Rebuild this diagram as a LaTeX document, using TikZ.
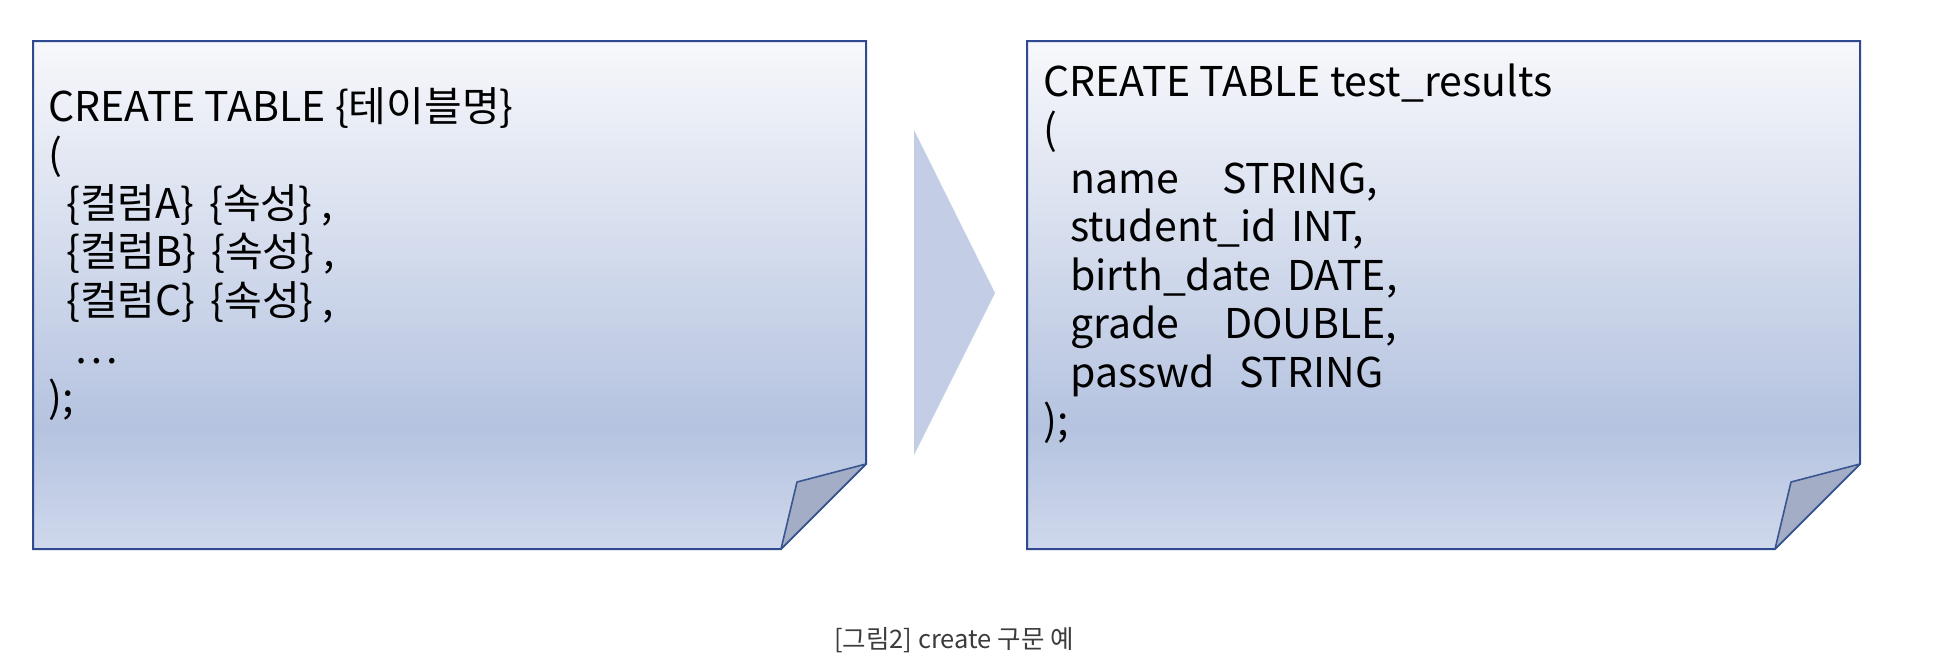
\documentclass[tikz,border=0pt]{standalone}
\usepackage{fontspec}
\setmainfont{Noto Sans CJK KR}
\usepackage{xcolor}
\usetikzlibrary{positioning}

\definecolor{notetop}{HTML}{F7F8FB}
\definecolor{notemid}{HTML}{B5C3E0}
\definecolor{notebot}{HTML}{CFD8EC}
\definecolor{noteline}{HTML}{2F4A91}
\definecolor{foldline}{HTML}{3A5690}
\definecolor{foldfill}{HTML}{A4ADC6}
\definecolor{arrowfill}{HTML}{C3CEE6}
\definecolor{captiongray}{HTML}{3C3C3C}

\pgfdeclareverticalshading{notefill}{100bp}{color(0bp)=(notebot); color(25bp)=(notebot); color(37bp)=(notemid); color(75bp)=(notetop); color(100bp)=(notetop)}

\newcommand{\field}[2]{\hspace*{27pt}\makebox[#2pt][l]{#1}}

\tikzset{
  note/.style={draw=noteline, line width=2pt, shading=notefill, line join=miter},
  fold/.style={draw=foldline, line width=1.6pt, fill=foldfill, line join=round},
  codeline/.style={anchor=base west, inner sep=0pt, font=\fontsize{41}{48}\selectfont},
  caption/.style={anchor=base, inner sep=0pt, text=captiongray, font=\fontsize{25.5}{30}\selectfont}
}

\begin{document}
\begin{tikzpicture}[x=1pt,y=-1pt]
\useasboundingbox (0,0) rectangle (1948,664);

% left note
\shade[note] (33,41) -- (866,41) -- (866,464) -- (781,549) -- (33,549) -- cycle;
\filldraw[fold] (866,464) -- (797,482) -- (781,549) -- cycle;

% right note
\shade[note] (1027,41) -- (1860,41) -- (1860,464) -- (1775,549) -- (1027,549) -- cycle;
\filldraw[fold] (1860,464) -- (1791,482) -- (1775,549) -- cycle;

% arrow
\fill[arrowfill] (914,130) -- (995,293) -- (914,455) -- cycle;

% code
\foreach \txt [count=\i from 0] in {
    {CREATE TABLE \{테이블명\}},
    {(},
    {\hspace*{18pt}\{컬럼A\}\hspace{15pt}\{속성\} ,},
    {\hspace*{18pt}\{컬럼B\}\hspace{15pt}\{속성\} ,},
    {\hspace*{18pt}\{컬럼C\}\hspace{15pt}\{속성\} ,},
    {\hspace*{26pt}…},
    {);}}
  \node[codeline] (lc\i) at (48,{121+48.5*\i}) {\txt};

\foreach \txt [count=\i from 0] in {
    {CREATE TABLE test\_results},
    {(},
    {\field{name}{152}STRING,},
    {\field{student\_id}{221}INT,},
    {\field{birth\_date}{217}DATE,},
    {\field{grade}{154}DOUBLE,},
    {\field{passwd}{169}STRING},
    {);}}
  \node[codeline] (rc\i) at (1043,{96+48.5*\i}) {\txt};

\node[caption] (cap) at (954,648) {[그림2] create 구문 예};
\end{tikzpicture}
\end{document}
